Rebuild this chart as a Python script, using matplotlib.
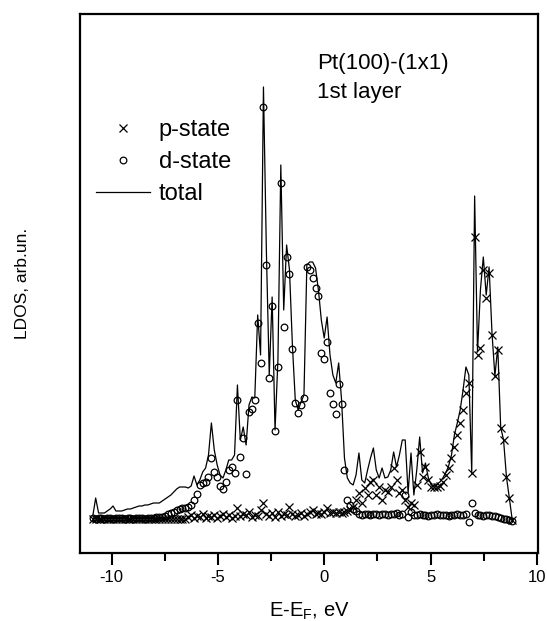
#!/usr/bin/env python3
"""
Pt(100)-(1x1) first-layer LDOS plot (p-state, d-state and total).

Output:
    out.png (547x621)
"""

import matplotlib
matplotlib.use('Agg')
import matplotlib.pyplot as plt
from matplotlib.ticker import MultipleLocator
import numpy as np

plt.rcParams['font.family'] = ['Liberation Sans', 'DejaVu Sans']
plt.rcParams['mathtext.fontset'] = 'custom'
plt.rcParams['mathtext.rm'] = 'Liberation Sans'
plt.rcParams['axes.unicode_minus'] = False

E_START = -10.88
E_STEP = 0.136
N_POINTS = 146

# LDOS values, arb. units (one row = 10 grid points)
total = [
    6, 24, 9, 9, 9, 11, 13, 16, 11, 11,
    11, 12, 13, 13, 14, 15, 16, 16, 17, 17,
    18, 19, 19, 19, 21, 23, 25, 27, 30, 33,
    35, 35, 35, 34, 36, 46, 37, 42, 50, 54,
    67, 99, 72, 57, 47, 44, 52, 62, 62, 67,
    137, 82, 95, 77, 117, 125, 124, 207, 167, 435,
    272, 147, 225, 92, 162, 357, 212, 277, 252, 177,
    122, 112, 120, 127, 257, 260, 260, 254, 232, 202,
    184, 205, 167, 147, 139, 159, 122, 64, 44, 39,
    37, 47, 69, 42, 39, 52, 64, 74, 52, 44,
    54, 44, 45, 52, 70, 55, 67, 82, 82, 29,
    69, 27, 52, 85, 49, 59, 44, 37, 36, 38,
    40, 44, 49, 56, 67, 87, 99, 112, 132, 155,
    147, 49, 326, 170, 232, 265, 227, 255, 189, 146,
    175, 95, 82, 45, 24, 2,
]

p_state = [
    3, 3, 3, 3, 3, 3, 3, 3, 3, 3,
    3, 3, 3, 3, 3, 3, 3, 3, 3, 3,
    3, 3, 3, 3, 3, 3, 3, 3, 3, 3,
    3, 3, 3, 5, 7, 4, 6, 5, 8, 4,
    6, 5, 7, 4, 6, 8, 5, 7, 4, 6,
    14, 6, 8, 7, 10, 5, 7, 6, 12, 19,
    8, 6, 9, 5, 10, 6, 8, 7, 15, 8,
    6, 7, 9, 6, 8, 10, 12, 8, 9, 8,
    10, 14, 9, 10, 9, 10, 9, 10, 11, 12,
    15, 22, 29, 19, 34, 27, 40, 42, 27, 35,
    22, 32, 30, 35, 54, 42, 29, 32, 22, 15,
    19, 17, 37, 70, 45, 55, 42, 35, 35, 35,
    36, 40, 47, 54, 64, 75, 87, 99, 112, 129,
    139, 49, 285, 167, 174, 252, 224, 249, 187, 146,
    172, 94, 82, 45, 24, 2,
]

d_state = [
    4, 3, 4, 4, 3, 4, 4, 3, 4, 4,
    4, 3, 4, 4, 3, 4, 4, 4, 3, 4,
    4, 4, 5, 5, 5, 6, 8, 9, 10, 12,
    13, 14, 14, 15, 17, 22, 28, 37, 39, 40,
    45, 64, 50, 45, 36, 33, 40, 52, 55, 49,
    122, 65, 84, 48, 110, 113, 122, 199, 159, 415,
    257, 144, 216, 91, 155, 339, 195, 265, 248, 173,
    119, 109, 117, 124, 255, 252, 244, 234, 226, 169,
    163, 180, 129, 118, 108, 138, 118, 52, 22, 17,
    13, 11, 8, 7, 8, 8, 7, 8, 8, 7,
    8, 8, 7, 8, 8, 9, 7, 8, 27, 5,
    10, 7, 7, 8, 7, 7, 6, 7, 7, 8,
    7, 7, 7, 6, 7, 7, 8, 7, 7, 8,
    0, 19, 9, 7, 7, 6, 7, 7, 6, 6,
    5, 4, 3, 3, 2, 1,
]


def create_ldos_plot():
    """Draw the LDOS figure."""
    energy = np.round(E_START + E_STEP * np.arange(N_POINTS), 3)

    fig = plt.figure(figsize=(5.47, 6.21), dpi=100, facecolor='white')
    ax = fig.add_axes([0.1463, 0.1095, 0.8372, 0.868])

    ax.plot(energy, p_state, linestyle='none', marker='x', ms=5.8,
            mew=0.9, color='black', label='p-state')
    ax.plot(energy, d_state, linestyle='none', marker='o', ms=4.8,
            mew=0.9, mfc='none', mec='black', label='d-state')
    ax.plot(energy, total, color='black', lw=0.9, label='total')

    ax.set_xlim(-11.48, 10.05)
    ax.set_ylim(-31, 508)

    # axes frame and ticks
    for side in ax.spines.values():
        side.set_linewidth(1.6)
    ax.xaxis.set_major_locator(MultipleLocator(5))
    ax.xaxis.set_minor_locator(MultipleLocator(2.5))
    ax.tick_params(axis='x', which='major', direction='out', length=8.5,
                   width=1.5, labelsize=12, pad=4)
    ax.tick_params(axis='x', which='minor', direction='out', length=5.5,
                   width=1.5)
    ax.tick_params(axis='x', top=False, which='both')
    ax.set_yticks([])

    ax.set_xlabel(r'E-E$_\mathregular{F}$, eV', fontsize=14.5, labelpad=11)
    ax.set_ylabel('LDOS, arb.un.', fontsize=12.5, labelpad=36)

    # system label
    ax.text(0.517, 0.882, 'Pt(100)-(1x1)\n1st layer', transform=ax.transAxes,
            fontsize=16, ha='left', va='center', linespacing=1.5)

    ax.legend(loc='upper left', bbox_to_anchor=(0.035, 0.805), frameon=False,
              fontsize=17, handlelength=2.3, handletextpad=0.35,
              labelspacing=0.42, borderpad=0, borderaxespad=0)

    return fig


def main():
    fig = create_ldos_plot()
    fig.savefig('out.png', dpi=100, facecolor='white')
    plt.close(fig)


if __name__ == '__main__':
    main()
